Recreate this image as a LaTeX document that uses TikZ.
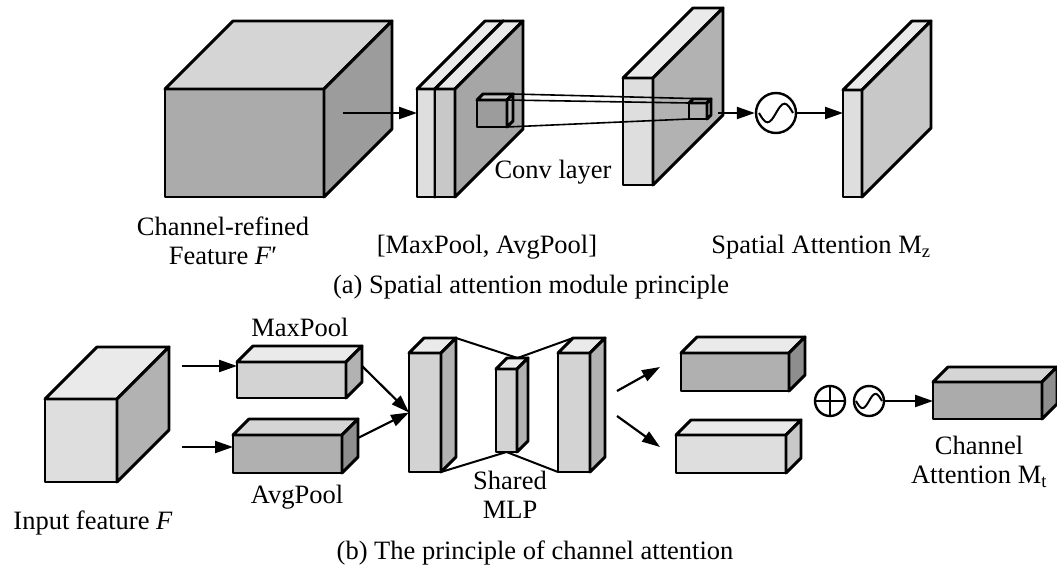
\documentclass[tikz,border=0pt]{standalone}
\usepackage{fontspec}
\setmainfont{Liberation Serif}
\usetikzlibrary{arrows.meta,calc}

% Grey shades
\definecolor{gA}{HTML}{ABABAB}
\definecolor{gAtop}{HTML}{D5D5D5}
\definecolor{gAside}{HTML}{9C9C9C}
\definecolor{gL}{HTML}{DEDEDE}
\definecolor{gLtop}{HTML}{EAEAEA}
\definecolor{gM}{HTML}{C8C8C8}
\definecolor{gMside}{HTML}{B2B2B2}
\definecolor{gD}{HTML}{B0B0B0}
\definecolor{gDside}{HTML}{8E8E8E}

% Cuboid: name, x, y (front top-left), width, height, depth, front, top, side
\newcommand{\cuboid}[9]{%
  \node[draw, fill=#7, anchor=north west, minimum width=#4pt, minimum height=#5pt,
        inner sep=0pt, outer sep=0pt] (#1) at (#2,#3) {};
  \filldraw[fill=#8] (#1.north west) -- ++(#6pt,#6pt) -- ++(#4pt,0pt) -- (#1.north east) -- cycle;
  \filldraw[fill=#9] (#1.north east) -- ++(#6pt,#6pt) -- ++(0pt,-#5pt) -- (#1.south east) -- cycle;
}
% Sigmoid wave inside a circle node
\newcommand{\sigwave}[2]{%
  \draw[line width=2pt] ($(#1.center)+(-#2pt,0pt)$) sin ++(0.5*#2pt,-0.55*#2pt)
    cos ++(0.5*#2pt,0.55*#2pt) sin ++(0.5*#2pt,0.55*#2pt) cos ++(0.5*#2pt,-0.55*#2pt);
}

\begin{document}
\begin{tikzpicture}[x=1pt, y=-1pt, line width=2.9pt, line join=round,
  every node/.style={font=\fontsize{26.5}{29}\selectfont},
  arr/.style={line width=2.2pt, -{Triangle[length=18pt,width=12pt]}},
  thinline/.style={line width=1.6pt},
  opnode/.style={circle, draw, line width=2.4pt, minimum size=#1pt, inner sep=0pt}]
\useasboundingbox (0,0) rectangle (1057,570);

% (a) Spatial attention
\cuboid{fin}{165}{89}{159}{108}{68}{gA}{gAtop}{gAside}
\cuboid{maxs}{417}{89}{18}{108}{68}{gL}{gLtop}{gL}
\cuboid{avgs}{435}{89}{20}{108}{68}{gM}{gLtop}{gAside!90!white}
\cuboid{src}{477}{100}{30}{27}{6}{gAside}{gM}{gD}
\cuboid{conv}{623}{78}{30}{107}{70}{gL}{gLtop}{gMside}
\cuboid{tgt}{689}{103}{18}{16}{4}{gD}{gM}{gMside}
\cuboid{sam}{843}{90}{19}{107}{69}{gL}{gLtop}{gM}

% Receptive field lines
\draw[thinline] ($(src.north east)+(6pt,6pt)$) -- ($(tgt.north east)+(4pt,4pt)$);
\draw[thinline] (src.north east) -- (tgt.north west);
\draw[thinline] (src.south east) -- (tgt.south west);

\coordinate (finout) at (343,113);
\coordinate (convout) at (718,113);
\node[opnode=40] (sig1) at (776,113) {};
\sigwave{sig1}{17}
\draw[arr] (finout) -- (finout -| maxs.west);
\draw[arr] (convout) -- (sig1);
\draw[arr] (sig1) -- (sig1 -| sam.west);

% Labels (a)
\node[align=center] (lfin) at (223,241) {Channel-refined\\Feature \textit{F}′};
\node (lpool) at (487,247) {[MaxPool, AvgPool]};
\node (lconv) at (553,172) {Conv layer};
\node (lsam) at (821,247) {Spatial Attention M\textsubscript{z}};
\node (capa) at (531,287) {(a) Spatial attention module principle};

% (b) Channel attention
\cuboid{inp}{45}{399}{72}{83}{52}{gL}{gLtop}{gMside}
\cuboid{maxp}{237}{362}{109}{36}{16}{gM!80!white}{gLtop}{gMside}
\cuboid{avgp}{233}{435}{109}{38}{16}{gD}{gAtop}{gDside}
\cuboid{mlpa}{409}{353}{32}{119}{15}{gM!80!white}{gLtop}{gMside}
\cuboid{mlpb}{496}{369}{21}{83}{11}{gM!80!white}{gLtop}{gMside}
\cuboid{mlpc}{558}{353}{32}{119}{15}{gM!80!white}{gLtop}{gMside}
\cuboid{outa}{681}{353}{108}{38}{16}{gD}{gLtop}{gDside}
\cuboid{outb}{676}{435}{110}{38}{15}{gL}{gLtop}{gM}
\cuboid{ca}{933}{382}{109}{37}{15}{gA}{gAtop}{gDside}

% Shared MLP links
\draw[line width=2pt] ($(mlpa.north east)+(15pt,15pt)$) -- ($(mlpb.north)+(11pt,11pt)$)
  -- ($(mlpc.north west)+(15pt,15pt)$);
\draw[line width=2pt] (mlpa.south east) -- (mlpb.south) -- (mlpc.south west);

% Arrows (b)
\coordinate (inA) at (182,366);
\coordinate (inB) at (182,447);
\coordinate (mxo) at (362,366);
\coordinate (avo) at (358,438);
\coordinate (mlo) at (617,391);
\coordinate (mlu) at (617,416);
\coordinate (oa) at (660,367);
\coordinate (ob) at (660,447);
\draw[arr] (inA) -- (inA -| maxp.west);
\draw[arr] (inB) -- (inB -| avgp.west);
\draw[arr] (mxo) -- (mlpa.west);
\draw[arr] (avo) -- (mlpa.west);
\draw[arr] (mlo) -- (oa);
\draw[arr] (mlu) -- (ob);

\node[opnode=30] (plus) at (830,401) {};
\draw[line width=2.4pt] (plus.north) -- (plus.south) (plus.west) -- (plus.east);
\node[opnode=30] (sig2) at (869,401) {};
\sigwave{sig2}{13}
\draw[arr] (sig2) -- (sig2 -| ca.west);

% Labels (b)
\node (lmax) at (300,327) {MaxPool};
\node (lavg) at (297,497) {AvgPool};
\node (linp) at (93,523) {Input feature \textit{F}};
\node[align=center] (lmlp) at (510,495) {Shared\\MLP};
\node[align=center] (lca) at (979,462) {Channel\\Attention M\textsubscript{t}};
\node (capb) at (535,553) {(b) The principle of channel attention};
\end{tikzpicture}
\end{document}
